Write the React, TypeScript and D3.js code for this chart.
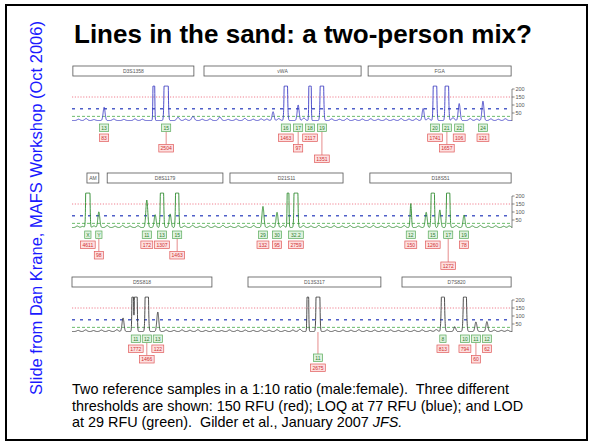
import React from 'react';
import * as d3 from 'd3';

// ---- data (positions in % of the scan window, heights in RFU) ----
type Peak = { pos: number; rfu: number; allele?: string; lift?: number; drop?: number; sd?: number };
type Locus = { name: string; from: number; to: number };

const titleText = 'Lines in the sand: a two-person mix?';
const sideNote = 'Slide from Dan Krane, MAFS Workshop (Oct 2006)';
const captionLines = [
  'Two reference samples in a 1:10 ratio (male:female).  Three different',
  'thresholds are shown: 150 RFU (red); LOQ at 77 RFU (blue); and LOD',
  'at 29 RFU (green).  Gilder et al., January 2007 ',
];
const captionItalic = 'JFS.';

const thresholds = [150, 77, 29];
const axisTicks = [50, 100, 150, 200];

const bluLoci: Locus[] = [
  { name: 'D3S1358', from: 0.2, to: 27.7 },
  { name: 'vWA', from: 30.0, to: 65.7 },
  { name: 'FGA', from: 67.3, to: 99.8 },
];
const grnLoci: Locus[] = [
  { name: 'AM', from: 3.4, to: 6.1 },
  { name: 'D8S1179', from: 8.0, to: 34.3 },
  { name: 'D21S11', from: 35.9, to: 61.6 },
  { name: 'D18S51', from: 67.7, to: 99.8 },
];
const blkLoci: Locus[] = [
  { name: 'D5S818', from: 0, to: 31.8 },
  { name: 'D13S317', from: 40.0, to: 70.2 },
  { name: 'D7S820', from: 75.0, to: 99.8 },
];

const bluPeaks: Peak[] = [
  { pos: 7.3, rfu: 83, allele: '13' },
  { pos: 18.6, rfu: 900, sd: 0.12 },
  { pos: 21.4, rfu: 2504, allele: '15', drop: 1, sd: 0.22 },
  { pos: 45.7, rfu: 55 },
  { pos: 48.6, rfu: 1463, allele: '16', sd: 0.2 },
  { pos: 51.4, rfu: 97, allele: '17', drop: 1 },
  { pos: 54.1, rfu: 2117, allele: '18', sd: 0.13 },
  { pos: 56.8, rfu: 1351, allele: '19', drop: 2, sd: 0.21 },
  { pos: 79.8, rfu: 75 },
  { pos: 82.5, rfu: 1741, allele: '20', sd: 0.2 },
  { pos: 85.2, rfu: 1657, allele: '21', drop: 1, sd: 0.2 },
  { pos: 88.0, rfu: 106, allele: '22' },
  { pos: 93.4, rfu: 121, allele: '24' },
];
const grnPeaks: Peak[] = [
  { pos: 3.6, rfu: 4611, allele: 'X', sd: 0.2 },
  { pos: 6.1, rfu: 98, allele: 'Y', drop: 1 },
  { pos: 17.0, rfu: 172, allele: '11' },
  { pos: 18.9, rfu: 80 },
  { pos: 20.45, rfu: 1307, allele: '13', sd: 0.2 },
  { pos: 22.3, rfu: 85 },
  { pos: 23.9, rfu: 1463, allele: '15', drop: 1, sd: 0.19 },
  { pos: 43.4, rfu: 132, allele: '29' },
  { pos: 46.6, rfu: 95, allele: '30' },
  { pos: 49.1, rfu: 900, sd: 0.12 },
  { pos: 50.9, rfu: 2759, allele: '32.2', sd: 0.2 },
  { pos: 77.0, rfu: 150, allele: '12', sd: 0.15 },
  { pos: 80.5, rfu: 95 },
  { pos: 82.0, rfu: 1260, allele: '15', sd: 0.2 },
  { pos: 83.6, rfu: 110 },
  { pos: 85.5, rfu: 1272, allele: '17', drop: 2, sd: 0.2 },
  { pos: 89.1, rfu: 78, allele: '19' },
];
const blkPeaks: Peak[] = [
  { pos: 11.6, rfu: 85 },
  { pos: 13.8, rfu: 700, sd: 0.12 },
  { pos: 14.5, rfu: 1772, allele: '11', sd: 0.16 },
  { pos: 17.0, rfu: 1466, allele: '12', drop: 1, sd: 0.2 },
  { pos: 19.5, rfu: 122, allele: '13' },
  { pos: 53.6, rfu: 800, sd: 0.12 },
  { pos: 55.9, rfu: 2675, allele: '11', lift: 1, sd: 0.2 },
  { pos: 84.3, rfu: 813, allele: '8', sd: 0.22 },
  { pos: 87.0, rfu: 30 },
  { pos: 89.3, rfu: 794, allele: '10', sd: 0.22 },
  { pos: 91.8, rfu: 60, allele: '11', drop: 1 },
  { pos: 94.3, rfu: 62, allele: '12' },
];

// small baseline blips [pos, rfu]
const bluNoise: [number, number][] = [
  [1.5, 8], [3.2, 12], [5.0, 6], [9.5, 9], [11.8, 7], [14.3, 10], [16.0, 8], [24.1, 20], [25.8, 9],
  [27.5, 26], [29.6, 8], [31.4, 10], [33.6, 22], [35.5, 7], [37.3, 9], [39.3, 13], [41.2, 8], [43.0, 10],
  [44.3, 9], [47.0, 12], [52.7, 15], [59.0, 10], [60.8, 8], [62.5, 12], [64.3, 7], [66.0, 9], [67.9, 11],
  [69.6, 8], [71.4, 10], [73.1, 7], [74.8, 12], [76.6, 9], [78.2, 11], [81.0, 14], [86.6, 18], [90.5, 12],
  [92.0, 9], [95.2, 10], [96.9, 8], [98.5, 11],
];
const grnNoise: [number, number][] = [
  [1.2, 9], [2.4, 7], [5.0, 10], [8.0, 12], [9.8, 8], [11.5, 13], [13.2, 9], [15.0, 11], [25.6, 10],
  [27.4, 14], [29.1, 8], [30.8, 12], [32.5, 9], [34.3, 13], [36.0, 8], [37.8, 11], [39.5, 9], [41.3, 12],
  [45.0, 10], [48.0, 14], [52.6, 12], [54.3, 9], [56.1, 13], [57.9, 8], [59.6, 11], [61.4, 9], [63.2, 12],
  [65.0, 8], [66.8, 10], [68.5, 13], [70.3, 9], [72.0, 11], [73.8, 8], [75.5, 12], [78.8, 10], [87.3, 12],
  [91.0, 10], [92.8, 13], [94.6, 9], [96.3, 11], [98.1, 8], [99.4, 10],
];
const blkNoise: [number, number][] = [
  [1.4, 7], [3.1, 10], [4.9, 6], [6.7, 9], [8.4, 7], [10.2, 11], [21.4, 9], [23.2, 7], [25.0, 10],
  [26.8, 8], [28.6, 11], [30.4, 7], [32.2, 9], [34.0, 6], [35.8, 10], [37.6, 8], [39.4, 9], [41.2, 7],
  [43.0, 10], [44.8, 8], [46.6, 11], [48.4, 7], [50.2, 9], [51.8, 14], [58.0, 10], [59.8, 7], [61.6, 9],
  [63.4, 8], [65.2, 11], [67.0, 7], [68.8, 9], [70.6, 8], [72.4, 10], [74.2, 7], [76.0, 9], [77.8, 8],
  [79.6, 10], [81.4, 7], [82.8, 12], [96.0, 9], [97.6, 7], [99.0, 8],
];

// ---- layout / styles ----
const W = 591;
const H = 444;
const X0 = 72;
const X1 = 512;
const CLIP = 218;

const rows = [
  { base: 121, color: '#3b3bc4', loci: bluLoci, peaks: bluPeaks, noise: bluNoise },
  { base: 228, color: '#2b8a2b', loci: grnLoci, peaks: grnPeaks, noise: grnNoise },
  { base: 332, color: '#3a3a3a', loci: blkLoci, peaks: blkPeaks, noise: blkNoise },
];

const thStyle: Record<number, { stroke: string; width: number; dash: string }> = {
  150: { stroke: '#f08090', width: 1, dash: '1.2,1.6' },
  77: { stroke: '#4f5fc8', width: 1.4, dash: '3,5' },
  29: { stroke: '#6cbc6c', width: 1, dash: '3,2' },
};

const xScale = d3.scaleLinear().domain([0, 100]).range([X0, X1]);
const samples = d3.range(0, 100.001, 0.02);

function traceOf(peaks: Peak[], noise: [number, number][]) {
  return samples.map(x => {
    let v = 3;
    for (const p of peaks) {
      const s = p.sd ?? 0.22;
      v += p.rfu * Math.exp(-((x - p.pos) ** 2) / (2 * s * s));
    }
    for (const [pos, rfu] of noise) {
      v += rfu * Math.exp(-((x - pos) ** 2) / (2 * 0.3 * 0.3));
    }
    return [x, Math.min(v, CLIP)] as [number, number];
  });
}

const font = 'Arial, "Liberation Sans", sans-serif';

function Row({ row }: { row: typeof rows[number] }) {
  const y = d3.scaleLinear().domain([0, 200]).range([row.base, row.base - 32]);
  const line = d3.line<[number, number]>().x(d => xScale(d[0])).y(d => y(d[1]));
  const path = line(traceOf(row.peaks, row.noise)) || '';
  const boxTop = row.base - 55;
  return (
    <g>
      {row.loci.map(l => (
        <g key={l.name}>
          <rect x={xScale(l.from)} y={boxTop} width={xScale(l.to) - xScale(l.from)} height={10}
            fill="#fff" stroke="#555" strokeWidth={0.8} />
          <text x={(xScale(l.from) + xScale(l.to)) / 2} y={boxTop + 6.8} textAnchor="middle"
            fontSize={5} fill="#555" fontFamily={font}>{l.name}</text>
        </g>
      ))}
      {thresholds.map(t => (
        <line key={t} x1={X0} x2={X1} y1={y(t)} y2={y(t)} stroke={thStyle[t].stroke}
          strokeWidth={thStyle[t].width} strokeDasharray={thStyle[t].dash} />
      ))}
      <path d={path} fill="none" stroke={row.color} strokeWidth={0.9} strokeLinejoin="round" />
      <line x1={X1} x2={X1} y1={y(0)} y2={y(200)} stroke="#555" strokeWidth={0.7} />
      {axisTicks.map(t => (
        <g key={t}>
          <line x1={X1} x2={X1 + 2.5} y1={y(t)} y2={y(t)} stroke="#555" strokeWidth={0.7} />
          <text x={X1 + 3.5} y={y(t) + 1.8} fontSize={5.5} fill="#555" fontFamily={font}>{t}</text>
        </g>
      ))}
      {row.peaks.filter(p => p.allele).map(p => {
        const cx = xScale(p.pos);
        const gTop = row.base + 3 + (p.lift ?? 0) * 19;
        const rTop = gTop + 10 + (p.drop ?? 0) * 10.5;
        const gw = 2.8 * p.allele!.length + 3.5;
        const lbl = String(p.rfu);
        const rw = 2.8 * lbl.length + 3.5;
        return (
          <g key={p.pos}>
            {p.lift ? <line x1={cx} x2={cx} y1={row.base} y2={gTop} stroke="#e07070" strokeWidth={0.8} /> : null}
            {p.drop ? <line x1={cx} x2={cx} y1={gTop + 7.5} y2={rTop} stroke="#e07070" strokeWidth={0.8} /> : null}
            <rect x={cx - gw / 2} y={gTop} width={gw} height={7.5} fill="#dff2df" stroke="#5aaa5a" strokeWidth={0.7} />
            <text x={cx} y={gTop + 5.6} textAnchor="middle" fontSize={5} fill="#2f7f2f" fontFamily={font}>{p.allele}</text>
            <rect x={cx - rw / 2} y={rTop} width={rw} height={7.5} fill="#fde0e0" stroke="#e05a5a" strokeWidth={0.7} />
            <text x={cx} y={rTop + 5.6} textAnchor="middle" fontSize={5} fill="#d03030" fontFamily={font}>{lbl}</text>
          </g>
        );
      })}
    </g>
  );
}

export default function App() {
  return (
    <svg width={W} height={H} style={{ position: 'absolute', left: 0, top: 0, background: '#fff' }}>
      <rect x={0} y={0} width={W} height={H} fill="#fff" />
      <rect x={6} y={5} width={581} height={435} fill="none" stroke="#000" strokeWidth={2} />
      <text transform="translate(42,208) rotate(-90)" textAnchor="middle" fontSize={16.5}
        fill="#1a1aff" fontFamily={font}>{sideNote}</text>
      <text x={74} y={43} fontSize={26} fontWeight="bold" fill="#000" fontFamily={font}>{titleText}</text>
      {rows.map((r, i) => <Row key={i} row={r} />)}
      {captionLines.map((l, i) => (
        <text key={i} x={72} y={394 + i * 16.5} fontSize={14.4} fill="#000" fontFamily={font}
          style={{ whiteSpace: 'pre' }}>
          {l}
          {i === captionLines.length - 1 ? <tspan fontStyle="italic">{captionItalic}</tspan> : null}
        </text>
      ))}
    </svg>
  );
}
